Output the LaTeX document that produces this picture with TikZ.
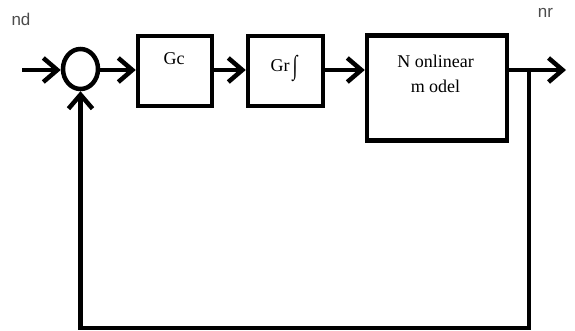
\documentclass[tikz,border=0pt]{standalone}
\usepackage{fontspec}
\setmainfont{Liberation Serif}
\newfontfamily\labelfont{Liberation Sans}
\usetikzlibrary{arrows.meta,shapes.geometric}
\begin{document}
\begin{tikzpicture}[x=1pt,y=-1pt,
  line width=4.5pt,
  sig/.style={-{Straight Barb[length=14pt,width=24pt,line width=4.5pt]}},
  lbl/.style={font=\labelfont\fontsize{17}{20}\selectfont,text=black!70,inner sep=0pt},
  txt/.style={font=\fontsize{18}{25}\selectfont,inner sep=0pt}]
\useasboundingbox (0,0) rectangle (575,331);
% summing junction
\node[draw,ellipse,minimum width=35pt,minimum height=40pt,inner sep=0pt] (sum) at (80.5,69) {};
% blocks
\node[draw,minimum width=74pt,minimum height=70pt,inner sep=0pt] (gc) at (175,71) {};
\node[txt] (gct) at (174,59) {Gc};
\node[draw,minimum width=75pt,minimum height=70pt,inner sep=0pt] (gr) at (285.5,71) {};
\node[txt] (grt) at (284,68) {Gr\,\raisebox{-3pt}{\scalebox{1}[1.5]{∫}}};
\node[draw,minimum width=140pt,minimum height=105pt,inner sep=0pt] (nl) at (437,88) {};
\node[txt,align=center] (nlt) at (435.5,74) {N onlinear\\m odel};
% signal labels
\node[lbl] (nd) at (21,19) {nd};
\node[lbl] (nr) at (545.5,13) {nr};
% coordinates
\coordinate (in) at (22,70);
\coordinate (out) at (566,70);
\coordinate (br) at (529,70);
\coordinate (br2) at (529,328);
\coordinate (fb) at (80.5,328);
% connectors
\draw[sig] (in) -- (sum.west |- in);
\draw[sig] (sum.east |- in) -- (gc.west |- in);
\draw[sig] (gc.east |- in) -- (gr.west |- in);
\draw[sig] (gr.east |- in) -- (nl.west |- in);
\draw[sig] (nl.east |- out) -- (out);
\draw[line cap=rect] (br) -- (br2) -- (fb);
\draw[sig] (fb) -- (sum.south);
\end{tikzpicture}
\end{document}
